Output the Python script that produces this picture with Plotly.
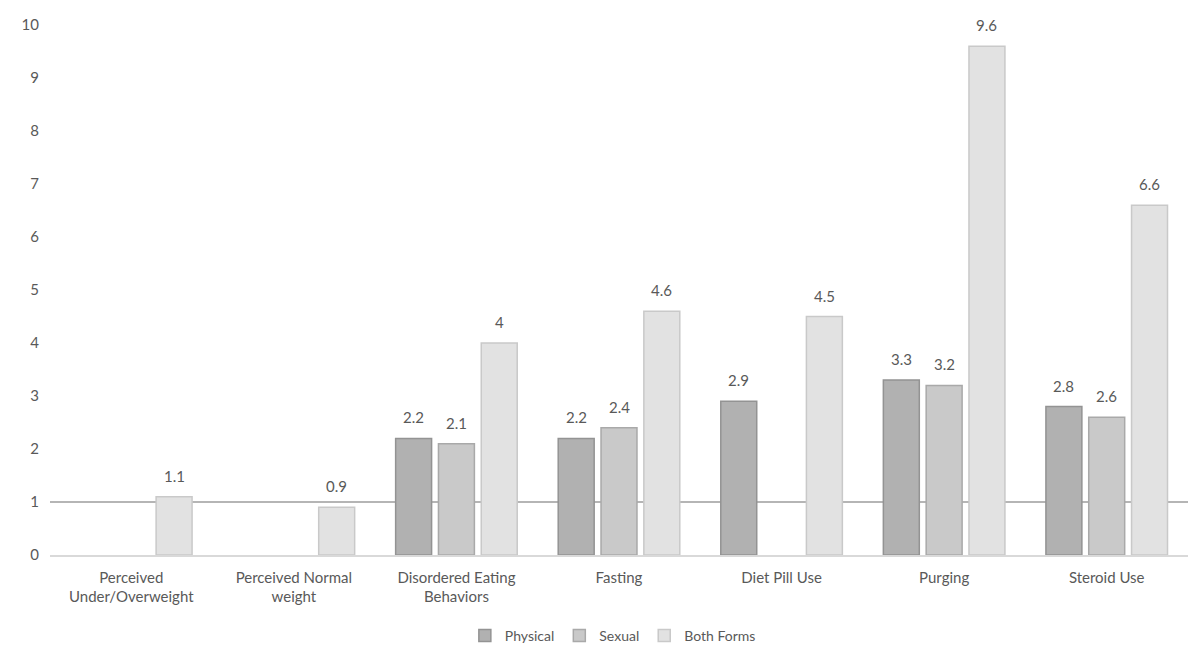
import plotly.graph_objects as go

categories = ["Perceived<br>Under/Overweight", "Perceived Normal<br>weight", "Disordered Eating<br>Behaviors",
              "Fasting", "Diet Pill Use", "Purging", "Steroid Use"]
physical = [None, None, 2.2, 2.2, 2.9, 3.3, 2.8]
sexual = [None, None, 2.1, 2.4, None, 3.2, 2.6]
both_forms = [1.1, 0.9, 4.0, 4.6, 4.5, 9.6, 6.6]
y_ticks = list(range(0, 11))
reference_value = 1

series = [
    ("Physical", physical, "#b1b1b1", "#939393"),
    ("Sexual", sexual, "#c9c9c9", "#a9a9a9"),
    ("Both Forms", both_forms, "#e2e2e2", "#c9c9c9"),
]

W, H = 1190, 649
ML, MR, MT, MB = 50, 2, 25, 94
BARGAP = 0.21
plot_w = W - ML - MR
slot_px = plot_w / len(categories) * (1 - BARGAP) / len(series)

fig = go.Figure()
annotations = []
for i, (name, vals, fill, line) in enumerate(series):
    fig.add_trace(go.Bar(
        name=name, x=categories, y=vals,
        marker=dict(color=fill, line=dict(color=line, width=1.5)),
    ))
    offset = (i - (len(series) - 1) / 2) * slot_px
    for c, v in zip(categories, vals):
        if v is None:
            continue
        annotations.append(dict(
            x=c, y=v, text=f"{v:g}", showarrow=False, xref="x", yref="y",
            yanchor="bottom", xshift=offset, yshift=10,
            font=dict(size=15, color="#595959"),
        ))

fig.add_hline(y=reference_value, line=dict(color="#b5b5b5", width=2), layer="below")

fig.update_layout(
    width=W, height=H,
    paper_bgcolor="white", plot_bgcolor="white",
    font=dict(family="Lato", size=15, color="#595959"),
    margin=dict(l=ML, r=MR, t=MT, b=MB),
    barmode="group", bargap=BARGAP, bargroupgap=0.16,
    showlegend=True,
    annotations=annotations,
    legend=dict(orientation="h", x=0.515, xanchor="center", xref="container",
                y=0.02, yanchor="middle", yref="container",
                font=dict(size=14, color="#595959"), traceorder="normal",
                itemwidth=30, tracegroupgap=0),
    xaxis=dict(showline=True, linecolor="#d9d9d9", linewidth=1.5, ticks="", showgrid=False,
               ticklabelstandoff=8, automargin=False),
    yaxis=dict(range=[0, 10], tickvals=y_ticks, showgrid=False, zeroline=False,
               showline=False, ticks="", ticklabelstandoff=10, automargin=False),
)

fig.write_html("out.html")
